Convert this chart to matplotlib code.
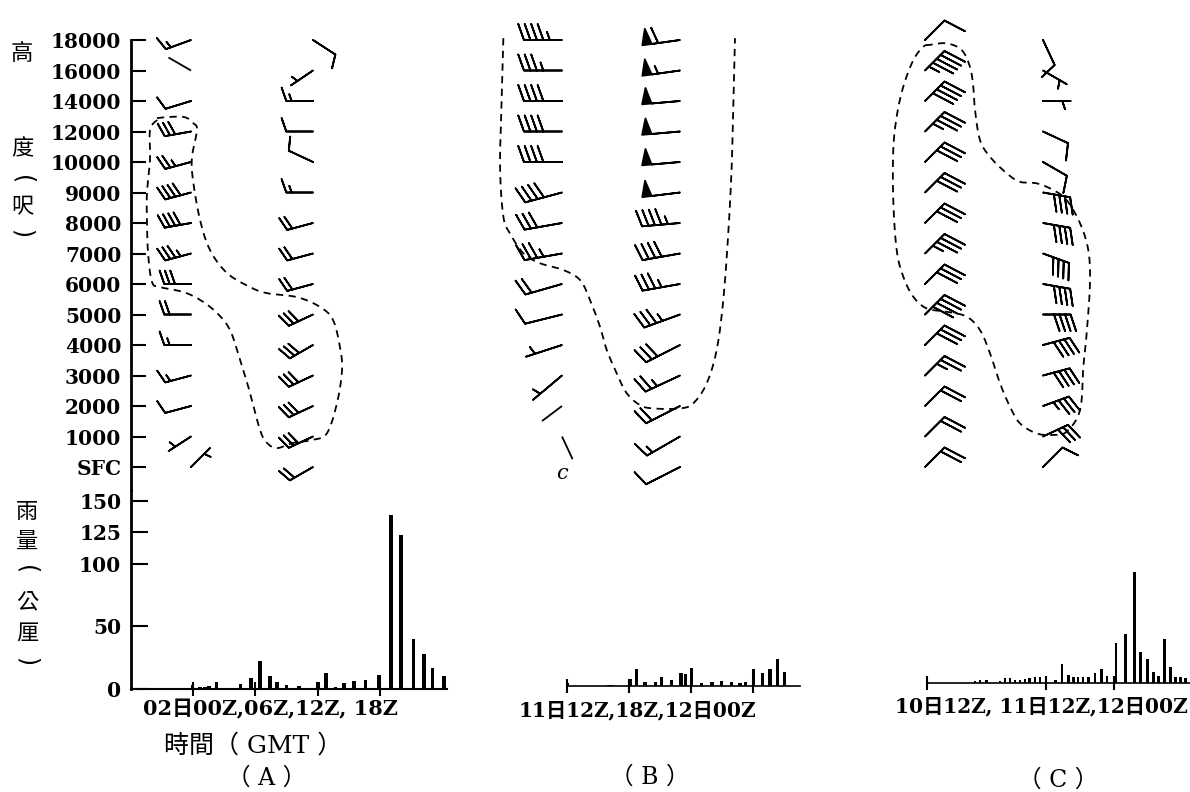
import numpy as np
import matplotlib
matplotlib.use("Agg")
import matplotlib.pyplot as plt

plt.rcParams['font.family'] = ['DejaVu Serif', 'Noto Sans CJK TC']

# ---------------- data ----------------
levels = ['SFC', '1000', '2000', '3000', '4000', '5000', '6000', '7000',
          '8000', '9000', '10000', '12000', '14000', '16000', '18000']

# wind (direction from, deg ; speed kt), SFC -> 18000 ; 0 = staff only, nan = calm
A1_dir = [45, 237, 255, 255, 270, 270, 270, 255, 260, 255, 255, 260, 253, 300, 250]
A1_spd = [5, 5, 10, 15, 15, 20, 30, 35, 40, 40, 25, 30, 10, 0, 15]
A2_dir = [240, 245, 245, 245, 240, 245, 255, 255, 255, 270, 295, 270, 270, 236, 123]
A2_spd = [20, 30, 30, 30, 30, 30, 20, 20, 20, 15, 10, 10, 15, 5, 10]

B1_dir = [0, 155, 233, 230, 252, 256, 254, 260, 260, 255, 270, 270, 270, 270, 270]
B1_spd = [np.nan, 0, 0, 5, 5, 10, 20, 35, 30, 40, 40, 40, 40, 35, 45]
B2_dir = [243, 240, 243, 245, 243, 250, 260, 260, 265, 263, 265, 265, 265, 262, 262]
B2_spd = [10, 15, 20, 25, 30, 35, 35, 40, 45, 50, 50, 50, 50, 55, 60]

C1_dir = [45] * 15
C1_spd = [20, 20, 20, 25, 30, 40, 30, 35, 30, 30, 30, 35, 40, 45, 10]
C2_dir = [45, 65, 70, 75, 75, 90, 100, 110, 100, 100, 120, 115, 90, 120, 155]
C2_spd = [10, 30, 35, 40, 40, 40, 40, 40, 40, 40, 10, 10, 5, 5, 10]

# rainfall (hours after first labelled time ; mm)
A_hours = [0, 0.7, 1.2, 1.6, 2.3, 3.6, 4.6, 5.6, 6.5, 7.4, 8.1, 9.0, 10.2, 12.0,
           12.8, 13.7, 14.5, 15.5, 16.6, 17.9, 19.0, 20.0, 21.2, 22.2, 23.0, 24.1]
A_rain = [3, 1.5, 1.5, 2, 5.5, 0.5, 4, 8.7, 22.4, 10, 5.5, 3.5, 2, 5.5,
          12.6, 1.5, 4.5, 6.5, 7.4, 10.8, 139, 123, 40, 28, 16.6, 10]
B_hours = [0, 4.0, 4.3, 6.1, 6.7, 7.5, 8.5, 9.1, 10.1, 11.0, 11.4, 12.0, 13.0,
           14.0, 14.9, 15.9, 16.7, 17.2, 18.0, 18.9, 19.6, 20.3, 21.0]
B_rain = [2, 0.5, 0.5, 5, 13, 3, 3, 7, 4.5, 10, 9, 14, 2.5,
          3, 3.5, 3, 2.5, 3, 13, 10, 13, 21, 11]
C_hours = [0, 9.6, 10.6, 12.0, 14.7, 15.7, 16.7, 17.7, 18.7, 19.7, 20.7, 21.8,
           22.8, 24.0, 25.6, 26.8, 28.0, 28.8, 29.6, 30.5, 31.4, 32.6, 33.7, 34.7,
           36.3, 38.0, 39.5, 40.6, 41.9, 42.9, 43.7, 44.8, 45.8, 46.7, 47.6, 48.5]
C_rain = [1, 2, 2.5, 2.5, 2, 4, 4, 3, 3, 3.5, 4, 4.8,
          4.8, 4.8, 2.5, 15.4, 6.6, 4.8, 4.8, 4.8, 4.8, 8, 11.4, 6,
          32, 39, 89, 24.7, 19, 8.8, 6, 35, 13.3, 5.3, 4.8, 4]

rain_ticks = [0, 50, 100, 125, 150]
A_xticks = [0, 6, 12, 18]
B_xticks = [0, 6, 12, 18]
C_xticks = [0, 24, 36]
A_xlabel = '02日00Z,06Z,12Z, 18Z'
B_xlabel = '11日12Z,18Z,12日00Z'
C_xlabel = '10日12Z, 11日12Z,12日00Z'

# dashed outlines (x: column units, station col1 = 0, col2 = 1 ; y: level index)
A_out_x = [-0.279, -0.066, 0.016, 0.049, 0.008, 0.016, 0.074, 0.156, 0.295, 0.484,
           0.623, 0.869, 1.057, 1.164, 1.221, 1.238, 1.197, 1.115, 1.0, 0.836,
           0.705, 0.623, 0.566, 0.484, 0.402, 0.320, 0.213, 0.074, -0.066, -0.254,
           -0.320, -0.352, -0.361, -0.361, -0.336, -0.336, -0.279]
A_out_y = [11.44, 11.48, 11.28, 11.05, 10.16, 9.41, 8.10, 7.11, 6.36, 5.90,
           5.70, 5.57, 5.25, 4.82, 3.93, 3.18, 2.10, 1.11, 0.89, 0.79,
           0.62, 0.79, 1.21, 2.43, 3.51, 4.49, 5.05, 5.48, 5.74, 5.90,
           6.07, 7.02, 8.10, 8.98, 10.07, 11.05, 11.38]
B_out_x = [-0.497, -0.511, -0.525, -0.497, -0.441, -0.328, -0.186, 0.011, 0.153, 0.237,
           0.322, 0.379, 0.464, 0.548, 0.661, 0.774, 1.0, 1.113, 1.226, 1.311,
           1.367, 1.409, 1.438, 1.452, 1.466]
B_out_y = [14.06, 12.03, 9.85, 8.21, 7.66, 7.01, 6.68, 6.46, 6.13, 5.48,
           4.60, 3.84, 3.07, 2.42, 2.03, 1.92, 1.92, 2.09, 2.74, 3.84,
           5.48, 7.66, 9.85, 12.03, 14.06]
C_out_x = [0.042, -0.014, -0.099, -0.184, -0.240, -0.269, -0.269, -0.240, -0.184, -0.099,
           0.014, 0.184, 0.353, 0.466, 0.551, 0.636, 0.720, 0.805, 0.947, 1.087,
           1.201, 1.314, 1.342, 1.370, 1.398, 1.384, 1.314, 1.201, 1.087, 0.947,
           0.805, 0.692, 0.551, 0.466, 0.424, 0.409, 0.381, 0.311, 0.184, 0.042]
C_out_y = [13.84, 13.78, 13.34, 12.47, 11.49, 10.39, 8.75, 7.11, 6.24, 5.58,
           5.20, 5.09, 4.93, 4.49, 3.73, 2.74, 1.98, 1.43, 1.10, 1.05,
           1.16, 1.87, 3.29, 4.38, 6.02, 7.11, 7.99, 8.75, 9.08, 9.30,
           9.35, 9.63, 10.17, 10.72, 11.70, 12.47, 13.12, 13.67, 13.89, 13.84]

# ---------------- figure ----------------
W, H = 1190, 792
fig = plt.figure(figsize=(W / 100, H / 100), dpi=100)
fig.patch.set_facecolor('white')


def px_axes(l, t, r, b):
    return fig.add_axes([l / W, 1 - b / H, (r - l) / W, (b - t) / H])


def catmull(xs, ys, closed, n=10):
    P = np.column_stack([xs, ys]).astype(float)
    if closed:
        if np.allclose(P[0], P[-1]):
            P = P[:-1]
        P = np.vstack([P[-1], P, P[0], P[1]])
    else:
        P = np.vstack([P[0], P, P[-1]])
    t = np.linspace(0, 1, n, endpoint=False)[:, None]
    out = []
    for i in range(1, len(P) - 2):
        p0, p1, p2, p3 = P[i - 1], P[i], P[i + 1], P[i + 2]
        out.append(0.5 * (2 * p1 + (-p0 + p2) * t + (2 * p0 - 5 * p1 + 4 * p2 - p3) * t ** 2
                          + (-p0 + 3 * p1 - 3 * p2 + p3) * t ** 3))
    out.append(P[-2][None])
    return np.vstack(out)


def draw_column(ax, xcol, dirs, spds, length, sizes, staff_px):
    d = np.radians(np.asarray(dirs, float))
    s = np.asarray(spds, float)
    lev = np.arange(len(s))
    x = np.full(len(s), float(xcol))
    m = np.isfinite(s) & (s > 0)
    ax.barbs(x[m], lev[m], -s[m] * np.sin(d[m]), -s[m] * np.cos(d[m]),
             length=length, sizes=sizes, pivot='tip', color='black',
             linewidth=1.3, clip_on=False,
             barb_increments=dict(half=5, full=10, flag=50))
    z = np.isfinite(s) & (s == 0)
    if z.any():
        ax.quiver(x[z], lev[z], np.sin(d[z]), np.cos(d[z]), angles='uv',
                  units='dots', scale_units='dots', scale=1.0 / staff_px,
                  width=1.8, headwidth=0, headlength=0, headaxislength=0,
                  pivot='tail', color='black', clip_on=False)
    c = ~np.isfinite(s)
    for xi, li in zip(x[c], lev[c]):
        ax.text(xi, li - 0.2, 'c', style='italic', fontsize=15,
                ha='center', va='center')


def wind_axes(l, r, s1, s2):
    ax = px_axes(l, 40, r, 490)
    k = s2 - s1
    ax.set_xlim((l - s1) / k, (r - s1) / k)
    ax.set_ylim(-0.754, 14)
    for sp in ax.spines.values():
        sp.set_visible(False)
    ax.set_xticks([])
    ax.set_yticks([])
    ax.patch.set_alpha(0)
    return ax


def outline(ax, xs, ys, closed):
    P = catmull(xs, ys, closed)
    ax.plot(P[:, 0], P[:, 1], color='black', lw=1.3,
            linestyle=(0, (4, 3)), clip_on=False)


# ---- panel A winds ----
axA = wind_axes(131, 360, 191, 313)
axA.spines['left'].set_visible(True)
axA.spines['left'].set_linewidth(2.0)
axA.set_yticks(range(len(levels)))
axA.set_yticklabels(levels, fontweight='bold')
axA.tick_params(axis='y', direction='in', length=11, width=1.5, pad=7, labelsize=14.5)
draw_column(axA, 0, A1_dir, A1_spd, 6.2, dict(height=0.5, spacing=0.2, width=0.35), 26)
draw_column(axA, 1, A2_dir, A2_spd, 6.2, dict(height=0.5, spacing=0.2, width=0.35), 26)
outline(axA, A_out_x, A_out_y, True)

# ---- panel B winds ----
axB = wind_axes(480, 790, 562, 680)
draw_column(axB, 0, B1_dir, B1_spd, 7.4, dict(height=0.42, spacing=0.17, width=0.3), 25)
draw_column(axB, 1, B2_dir, B2_spd, 7.4, dict(height=0.42, spacing=0.17, width=0.25), 25)
outline(axB, B_out_x, B_out_y, False)

# ---- panel C winds ----
axC = wind_axes(880, 1190, 925, 1043)
draw_column(axC, 0, C1_dir, C1_spd, 6.3, dict(height=0.8, spacing=0.2, width=0.5), 30)
draw_column(axC, 1, C2_dir, C2_spd, 6.3, dict(height=0.6, spacing=0.2, width=0.4), 30)
outline(axC, C_out_x, C_out_y, True)

# ---- rain panels ----
px_per_mm = 1.255

rA = px_axes(131, 490, 447, 689)
rA.bar(A_hours, A_rain, width=0.35, color='black')
rA.set_xlim(-5.9, 24.4)
rA.set_ylim(0, 199 / px_per_mm)
rA.spines['top'].set_visible(False)
rA.spines['right'].set_visible(False)
rA.spines['left'].set_linewidth(2.0)
rA.spines['bottom'].set_linewidth(1.5)
rA.set_yticks(rain_ticks)
rA.set_yticklabels([str(v) for v in rain_ticks], fontweight='bold')
rA.tick_params(axis='y', direction='in', length=12, width=1.5, pad=7, labelsize=14.5)
rA.set_xticks(A_xticks)
rA.set_xticklabels([])
rA.tick_params(axis='x', direction='inout', length=10, width=1.5)
rA.patch.set_alpha(0)

rB = px_axes(567.3, 600, 800, 685.7)
rB.bar(B_hours, B_rain, width=0.32, color='black')
rB.set_xlim(0, 22.5)
rB.set_ylim(0, 85.7 / px_per_mm)
for k in ['top', 'right', 'left']:
    rB.spines[k].set_visible(False)
rB.spines['bottom'].set_linewidth(1.2)
rB.set_yticks([])
rB.set_xticks(B_xticks)
rB.set_xticklabels([])
rB.tick_params(axis='x', direction='inout', length=10, width=1.5)
rB.patch.set_alpha(0)

# hand-drawn C time axis is not uniform: piecewise-linear scale
c_knots_h = [-100, 0, 24, 36, 200]
c_knots_p = [-495.0, 0.0, 118.8, 187.1, 187.1 + 164 * 5.69]


def c_fwd(h):
    return np.interp(h, c_knots_h, c_knots_p)


def c_inv(p):
    return np.interp(p, c_knots_p, c_knots_h)


rC = px_axes(927.3, 560, 1190, 683.3)
rC.set_xscale('function', functions=(c_fwd, c_inv))
rC.bar(C_hours, C_rain, width=0.5, color='black')
rC.set_xlim(0, 49.3)
rC.set_ylim(0, 123.3 / px_per_mm)
for k in ['top', 'right', 'left']:
    rC.spines[k].set_visible(False)
rC.spines['bottom'].set_linewidth(1.2)
rC.set_yticks([])
rC.set_xticks(C_xticks)
rC.set_xticklabels([])
rC.minorticks_off()
rC.tick_params(axis='x', direction='inout', length=10, width=1.5)
rC.patch.set_alpha(0)

# ---- texts ----
fam = ['DejaVu Serif', 'Noto Sans CJK TC']
fig.text(270 / W, 1 - 709 / H, A_xlabel, ha='center', va='center', fontsize=15,
         fontweight='bold', family=fam)
fig.text(637 / W, 1 - 710 / H, B_xlabel, ha='center', va='center', fontsize=14.5,
         fontweight='bold', family=fam)
fig.text(1041 / W, 1 - 706 / H, C_xlabel, ha='center', va='center', fontsize=14.5,
         fontweight='bold', family=fam)
fig.text(253 / W, 1 - 746 / H, '時間（ GMT ）', ha='center', va='center', fontsize=18,
         family=fam)
fig.text(267 / W, 1 - 778 / H, '（ A ）', ha='center', va='center', fontsize=17, family=fam)
fig.text(650 / W, 1 - 777 / H, '（ B ）', ha='center', va='center', fontsize=17, family=fam)
fig.text(1058 / W, 1 - 780 / H, '（ C ）', ha='center', va='center', fontsize=17, family=fam)

cjk = ['Noto Sans CJK TC', 'DejaVu Sans']


def vlabel(chars, ys, x):
    for ch, yy in zip(chars, ys):
        if ch in '()':
            fig.text(x / W, 1 - yy / H, ch, ha='center', va='center', fontsize=17,
                     family='DejaVu Sans', rotation=-90, rotation_mode='anchor')
        else:
            fig.text(x / W, 1 - yy / H, ch, ha='center', va='center', fontsize=16,
                     family=cjk)


vlabel(['高', '度', '(', '呎', ')'], [54, 149, 180, 207, 234], 22)
vlabel(['雨', '量', '(', '公', '厘', ')'], [512, 541, 570, 602, 634, 662], 27)

fig.savefig('out.png', dpi=100, facecolor='white')
